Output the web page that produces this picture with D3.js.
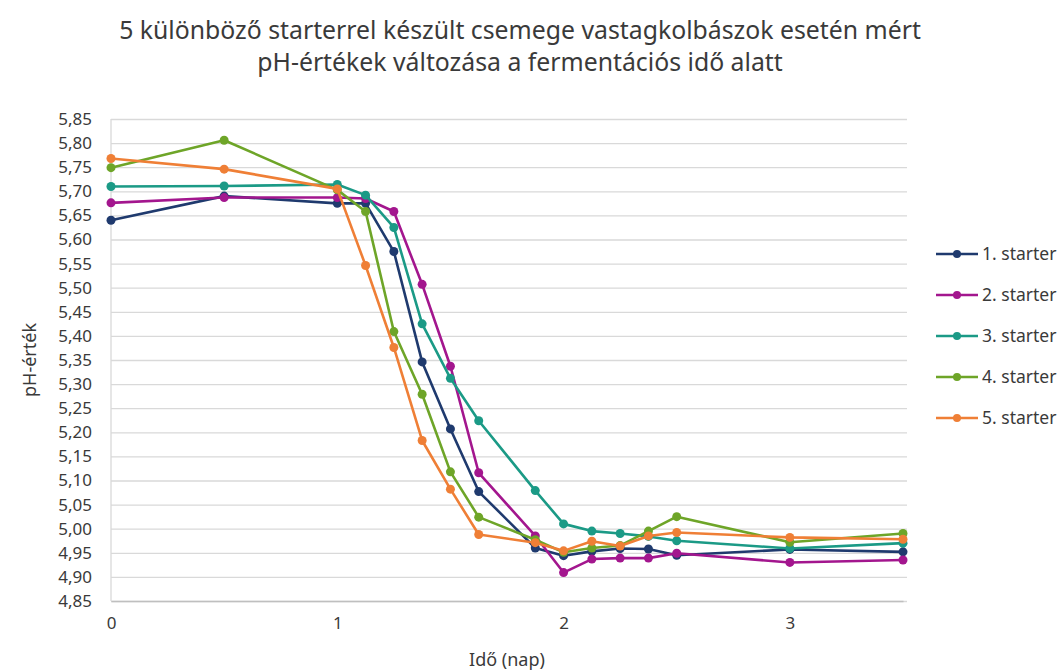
<!DOCTYPE html>
<html>
<head>
<meta charset="utf-8">
<script src="https://cdn.jsdelivr.net/npm/d3@7"></script>
<style>
  body { margin: 0; background: #fff; }
  svg { font-family: "Noto Sans", "Open Sans", sans-serif; }
</style>
</head>
<body>
<svg width="1062" height="671"></svg>
<script>
const width = 1062;
const height = 671;
const margin = { top: 119, right: 159, bottom: 70, left: 111 };

// time in days
const days = [0, 0.5, 1, 1.125, 1.25, 1.375, 1.5, 1.625, 1.875, 2, 2.125, 2.25, 2.375, 2.5, 3, 3.5];
const seriesNames = ["1. starter", "2. starter", "3. starter", "4. starter", "5. starter"];
const starter1 = [5.640, 5.690, 5.675, 5.675, 5.575, 5.346, 5.207, 5.077, 4.960, 4.944, 4.953, 4.959, 4.958, 4.945, 4.957, 4.952];
const starter2 = [5.676, 5.687, 5.687, 5.685, 5.658, 5.507, 5.337, 5.116, 4.985, 4.909, 4.937, 4.939, 4.939, 4.949, 4.930, 4.935];
const starter3 = [5.710, 5.711, 5.714, 5.692, 5.625, 5.425, 5.312, 5.224, 5.079, 5.010, 4.995, 4.990, 4.984, 4.975, 4.959, 4.970];
const starter4 = [5.749, 5.806, 5.703, 5.658, 5.409, 5.279, 5.118, 5.024, 4.977, 4.951, 4.960, 4.965, 4.995, 5.025, 4.972, 4.990];
const starter5 = [5.768, 5.746, 5.705, 5.546, 5.376, 5.183, 5.082, 4.988, 4.971, 4.954, 4.974, 4.964, 4.985, 4.992, 4.982, 4.978];
const colors = ["#1f3a6e", "#a3168e", "#1b9a86", "#6ea528", "#ef7f36"];
const yTicks = d3.range(4.85, 5.8501, 0.05);
const xTicks = [0, 1, 2, 3];

const allSeries = [starter1, starter2, starter3, starter4, starter5].map((vals, i) => ({
    name: seriesNames[i],
    color: colors[i],
    values: vals.map((v, j) => ({ t: days[j], ph: v })),
}));

const svg = d3.select("svg");
const textColor = "#3a3a3a";
const fontFamily = '"Noto Sans", "Open Sans", sans-serif';

const x = d3.scaleLinear().domain([0, 3.5]).range([margin.left, width - margin.right]);
const y = d3.scaleLinear().domain([4.85, 5.85]).range([height - margin.bottom, margin.top]);

// gridlines + y labels
const fmt = (d) => d.toFixed(2).replace(".", ",");
svg.append("g")
    .attr("transform", `translate(${margin.left},0)`)
    .call(d3.axisLeft(y).tickValues(yTicks).tickSize(-(width - margin.left - margin.right) - 4).tickPadding(19).tickFormat(fmt))
    .attr("font-family", fontFamily)
    .attr("font-size", 17)
    .call((g) => g.select(".domain").remove())
    .call((g) => g.selectAll(".tick line").attr("stroke", "#d9d9d9").attr("stroke-width", 1.3))
    .call((g) => g.selectAll(".tick text").attr("fill", textColor));

// left vertical axis line
svg.append("line")
    .attr("x1", margin.left).attr("x2", margin.left)
    .attr("y1", margin.top).attr("y2", height - margin.bottom)
    .attr("stroke", "#d9d9d9").attr("stroke-width", 1.3);

// x labels
svg.append("g")
    .attr("transform", `translate(0,${height - margin.bottom})`)
    .call(d3.axisBottom(x).tickValues(xTicks).tickSize(0).tickPadding(16).tickFormat(d3.format("d")))
    .attr("font-family", fontFamily)
    .attr("font-size", 17)
    .call((g) => g.select(".domain").attr("stroke", "#bfbfbf").attr("stroke-width", 1.3))
    .call((g) => g.selectAll(".tick text").attr("fill", textColor));

// lines
const line = d3.line().x((d) => x(d.t)).y((d) => y(d.ph));
const groups = svg.append("g").selectAll("g").data(allSeries).enter().append("g");
groups.append("path")
    .attr("d", (d) => line(d.values))
    .attr("fill", "none")
    .attr("stroke", (d) => d.color)
    .attr("stroke-width", 2.6)
    .attr("stroke-linejoin", "round");
groups.selectAll("circle")
    .data((d) => d.values.map((v) => ({ ...v, color: d.color })))
    .enter().append("circle")
    .attr("cx", (d) => x(d.t))
    .attr("cy", (d) => y(d.ph))
    .attr("r", 4.5)
    .attr("fill", (d) => d.color);

// legend
const legend = svg.append("g").attr("transform", "translate(936,254)");
const item = legend.selectAll("g").data(allSeries).enter().append("g")
    .attr("transform", (d, i) => `translate(0,${i * 41})`);
item.append("line").attr("x1", 0).attr("x2", 42).attr("stroke", (d) => d.color).attr("stroke-width", 2.6);
item.append("circle").attr("cx", 21).attr("r", 4).attr("fill", (d) => d.color);
item.append("text").attr("x", 46).attr("dy", "0.35em").attr("fill", textColor)
    .style("font-size", "17.5px").text((d) => d.name);

// title
svg.append("text").attr("x", 520).attr("y", 39).attr("text-anchor", "middle")
    .attr("fill", textColor).style("font-size", "24.8px")
    .text("5 különböző starterrel készült csemege vastagkolbászok esetén mért");
svg.append("text").attr("x", 520).attr("y", 71).attr("text-anchor", "middle")
    .attr("fill", textColor).style("font-size", "24.8px")
    .text("pH-értékek változása a fermentációs idő alatt");

// axis titles
svg.append("text").attr("x", 507).attr("y", 666).attr("text-anchor", "middle")
    .attr("fill", textColor).style("font-size", "18px").text("Idő (nap)");
svg.append("text").attr("transform", "translate(36,360) rotate(-90)").attr("text-anchor", "middle")
    .attr("fill", textColor).style("font-size", "18px").text("pH-érték");
</script>
</body>
</html>
